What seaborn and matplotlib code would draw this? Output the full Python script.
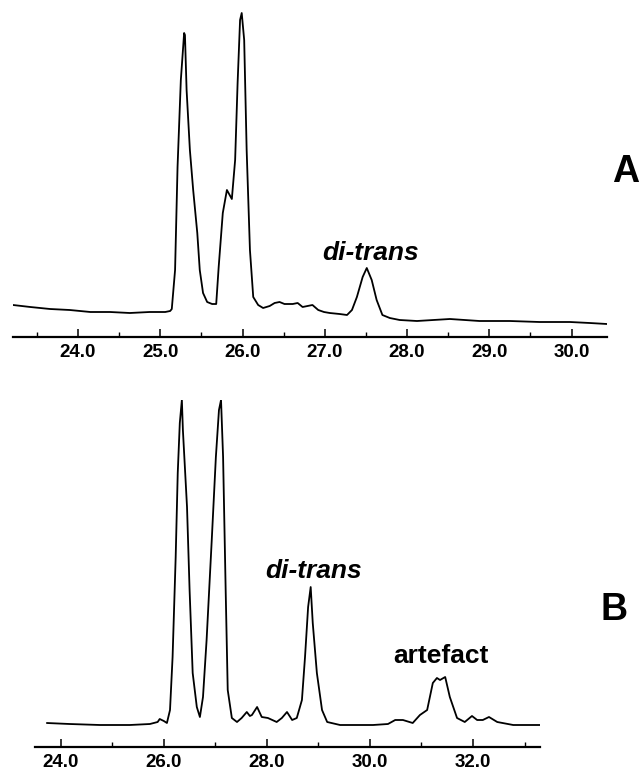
import matplotlib
matplotlib.use("Agg")
import matplotlib.pyplot as plt
import seaborn as sns
import pandas as pd
from matplotlib.ticker import MultipleLocator, FormatStrFormatter

# ---- Panel A chromatogram (retention time, min ; detector signal, a.u.) ----
rt_a = [23.21, 23.42, 23.66, 23.90, 24.15, 24.39, 24.63, 24.87, 25.06, 25.12,
        25.14, 25.18, 25.21, 25.25, 25.28, 25.29, 25.30, 25.32, 25.36, 25.40,
        25.45, 25.48, 25.52, 25.57, 25.63, 25.68, 25.71, 25.76, 25.81, 25.83,
        25.87, 25.91, 25.94, 25.97, 25.99, 26.02, 26.05, 26.09, 26.13, 26.19,
        26.25, 26.33, 26.39, 26.45, 26.51, 26.58, 26.61, 26.67, 26.73, 26.79,
        26.85, 26.92, 26.99, 27.06, 27.18, 27.27, 27.33, 27.39, 27.46, 27.51,
        27.57, 27.63, 27.70, 27.79, 27.91, 28.12, 28.52, 28.88, 29.25, 29.61,
        29.98, 30.22, 30.43]
sig_a = [32, 30, 28, 27, 25, 25, 24, 25, 25, 26,
         28, 67, 170, 257, 292, 304, 302, 247, 187, 147,
         104, 67, 44, 35, 33, 33, 70, 124, 147, 144,
         138, 177, 254, 317, 324, 297, 187, 87, 40, 32,
         29, 31, 34, 35, 33, 33, 33, 34, 30, 31,
         32, 27, 25, 24, 23, 22, 27, 40, 60, 69,
         57, 37, 22, 19, 17, 16, 18, 16, 16, 15,
         15, 14, 13]

# ---- Panel B chromatogram ----
rt_b = [23.73, 24.17, 24.76, 25.34, 25.73, 25.88, 25.92, 26.00, 26.06, 26.12,
        26.17, 26.23, 26.27, 26.31, 26.35, 26.37, 26.45, 26.50, 26.56, 26.64,
        26.70, 26.76, 26.83, 26.93, 27.01, 27.07, 27.11, 27.15, 27.20, 27.24,
        27.32, 27.42, 27.51, 27.61, 27.67, 27.71, 27.81, 27.90, 28.02, 28.19,
        28.29, 28.39, 28.49, 28.58, 28.68, 28.74, 28.80, 28.85, 28.89, 28.97,
        29.07, 29.17, 29.42, 30.06, 30.35, 30.49, 30.64, 30.83, 30.97, 31.11,
        31.22, 31.30, 31.36, 31.46, 31.55, 31.69, 31.84, 31.98, 32.08, 32.19,
        32.31, 32.47, 32.78, 33.30]
sig_b = [24, 23, 22, 22, 23, 25, 28, 26, 24, 37,
         90, 190, 274, 324, 347, 317, 240, 157, 74, 40,
         30, 50, 107, 207, 290, 337, 347, 290, 157, 57,
         29, 25, 29, 35, 31, 32, 40, 30, 29, 25,
         29, 35, 27, 29, 47, 90, 140, 160, 124, 74,
         37, 25, 22, 22, 23, 27, 27, 24, 32, 37,
         64, 69, 67, 70, 50, 29, 25, 31, 27, 27,
         30, 25, 22, 22]

# ---- annotations ----
labels_a = ["di-trans"]
label_rt_a = [27.56]
label_sig_a = [84]
labels_b = ["di-trans", "artefact"]
label_rt_b = [28.91, 31.38]
label_sig_b = [176, 91]
label_style_b = ["italic", "normal"]
panel_names = ["A", "B"]

sns.set_theme(style="white")
plt.rcParams["font.family"] = ["Liberation Sans", "DejaVu Sans"]
plt.rcParams["text.color"] = "black"
plt.rcParams["xtick.color"] = "black"
plt.rcParams["xtick.labelcolor"] = "black"

fig = plt.figure(figsize=(6.4, 7.72), dpi=100)
W, H = 640, 772

def add_axes_px(x0, x1, ytop, ybot):
    return fig.add_axes([x0 / W, 1 - ybot / H, (x1 - x0) / W, (ybot - ytop) / H])

axA = add_axes_px(13, 607, 0, 337)
axB = add_axes_px(35, 540, 400, 747)

dfA = pd.DataFrame({"rt": rt_a, "signal": sig_a})
dfB = pd.DataFrame({"rt": rt_b, "signal": sig_b})

sns.lineplot(data=dfA, x="rt", y="signal", ax=axA, color="black", lw=1.3,
             estimator=None, sort=False)
sns.lineplot(data=dfB, x="rt", y="signal", ax=axB, color="black", lw=1.3,
             estimator=None, sort=False)

axA.set_xlim(23.21, 30.43)
axA.set_ylim(0, 337)
axB.set_xlim(23.5, 33.3)
axB.set_ylim(0, 347)

for ax, major, minor in [(axA, 1.0, 0.5), (axB, 2.0, 1.0)]:
    for s in ["top", "right", "left"]:
        ax.spines[s].set_visible(False)
    ax.spines["bottom"].set_linewidth(1.6)
    ax.spines["bottom"].set_color("black")
    ax.set_facecolor("none")
    ax.xaxis.set_major_locator(MultipleLocator(major))
    ax.xaxis.set_minor_locator(MultipleLocator(minor))
    ax.xaxis.set_major_formatter(FormatStrFormatter("%.1f"))
    ax.tick_params(axis="x", which="major", direction="in", length=5.5,
                   width=1.1, color="black", labelcolor="black", pad=5,
                   labelsize=13.5, bottom=True)
    ax.tick_params(axis="x", which="minor", direction="in", length=3.5,
                   width=1.0, color="black", bottom=True)
    for t in ax.get_xticklabels():
        t.set_fontweight("bold")
    ax.set_yticks([])
    ax.set_xlabel("")
    ax.set_ylabel("")

for txt, x, y in zip(labels_a, label_rt_a, label_sig_a):
    axA.text(x, y, txt, ha="center", va="center", fontsize=19,
             fontweight="bold", fontstyle="italic", color="black")
for txt, x, y, st in zip(labels_b, label_rt_b, label_sig_b, label_style_b):
    axB.text(x, y, txt, ha="center", va="center", fontsize=19,
             fontweight="bold", fontstyle=st, color="black")

fig.text(639 / W, 1 - 172 / H, panel_names[0], ha="right", va="center",
         fontsize=27, fontweight="bold", color="black")
fig.text(614 / W, 1 - 610 / H, panel_names[1], ha="center", va="center",
         fontsize=27, fontweight="bold", color="black")

fig.savefig("out.png", dpi=100, facecolor="white")
